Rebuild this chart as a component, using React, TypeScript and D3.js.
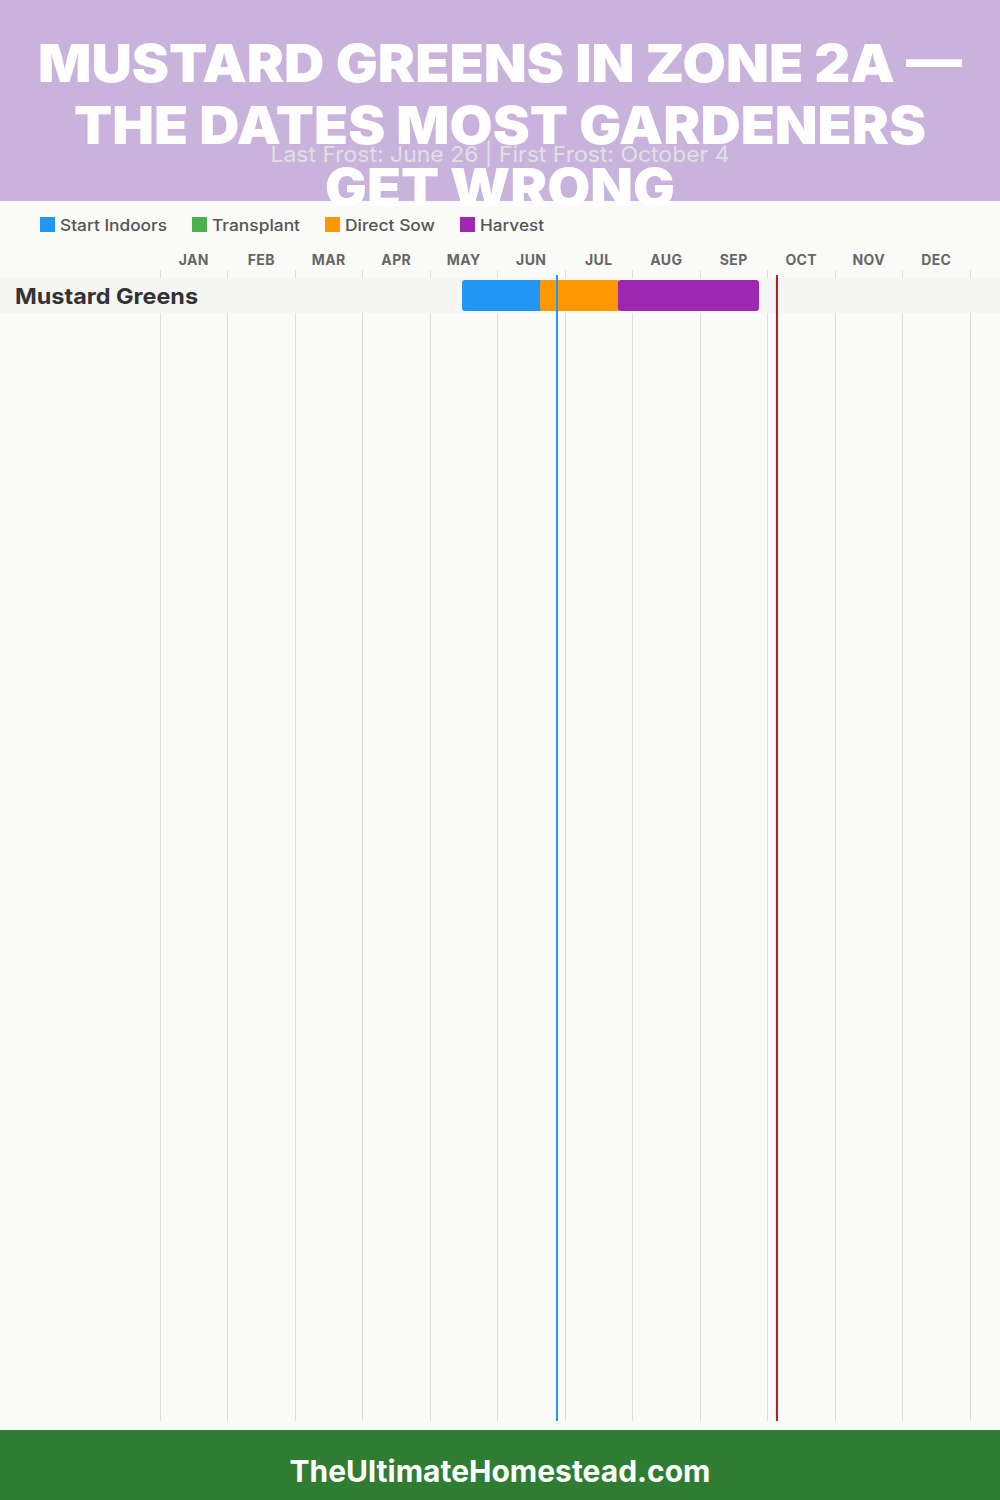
import * as d3 from 'd3'

const months = ['JAN', 'FEB', 'MAR', 'APR', 'MAY', 'JUN', 'JUL', 'AUG', 'SEP', 'OCT', 'NOV', 'DEC']
const titleLines = ['MUSTARD GREENS IN ZONE 2A —', 'THE DATES MOST GARDENERS', 'GET WRONG']
const subtitle = 'Last Frost: June 26 | First Frost: October 4'
const footer = 'TheUltimateHomestead.com'
const plants = ['Mustard Greens']
const legendNames = ['Start Indoors', 'Transplant', 'Direct Sow', 'Harvest']
// bars are [phase, start, end] in months from Jan 1
const phases = ['Start Indoors', 'Direct Sow', 'Harvest']
const phaseStart = [4.474, 5.63, 6.785]
const phaseEnd = [5.67, 6.815, 8.874]
const lastFrost = 5.881
const firstFrost = 9.14

const WIDTH = 1000
const HEIGHT = 1500
const FONT = 'Inter, sans-serif'

const color = d3
  .scaleOrdinal<string, string>()
  .domain(legendNames)
  .range(['#2196F3', '#4CAF50', '#FF9800', '#9C27B0'])

const x = d3.scaleLinear().domain([0, 12]).range([160, 970])
const y = d3.scaleBand<string>().domain(plants).range([278, 313])

// Montserrat is not installed, so each string is fitted to the reference width
const titleWidths = [924, 852, 350]
const legendX = [40, 192, 325, 460]
const legendWidths = [107, 88, 90, 64]

export default function App() {
  const ticks = d3.range(0, 13)
  return (
    <svg
      width={WIDTH}
      height={HEIGHT}
      viewBox={`0 0 ${WIDTH} ${HEIGHT}`}
      style={{ position: 'absolute', left: 0, top: 0, display: 'block' }}
      fontFamily={FONT}
    >
      <rect width={WIDTH} height={HEIGHT} fill="#FAFAF8" />
      <rect width={WIDTH} height={201} fill="#C9B3DC" />

      {titleLines.map((line, i) => (
        <text
          key={line}
          x={WIDTH / 2}
          y={82 + i * 62}
          textAnchor="middle"
          fontSize={52}
          fontWeight={900}
          fill="#fff"
          textLength={titleWidths[i]}
          lengthAdjust="spacingAndGlyphs"
        >
          {line}
        </text>
      ))}
      <text
        x={WIDTH / 2}
        y={162}
        textAnchor="middle"
        fontSize={22}
        fill="#E0E0E0"
        textLength={459}
        lengthAdjust="spacingAndGlyphs"
      >
        {subtitle}
      </text>

      {legendNames.map((name, i) => (
        <g key={name} transform={`translate(${legendX[i]},217)`}>
          <rect width={15} height={15} fill={color(name)} />
          <text
            x={20}
            y={13.5}
            fontSize={16}
            fontWeight={500}
            fill="#555"
            textLength={legendWidths[i]}
            lengthAdjust="spacingAndGlyphs"
          >
            {name}
          </text>
        </g>
      ))}

      {months.map((m, i) => (
        <text
          key={m}
          x={x(i + 0.5)}
          y={264.5}
          textAnchor="middle"
          fontSize={14}
          fontWeight={700}
          letterSpacing={0.4}
          fill="#666"
        >
          {m}
        </text>
      ))}

      {ticks.map((t) => (
        <line
          key={t}
          x1={Math.floor(x(t)) + 0.5}
          x2={Math.floor(x(t)) + 0.5}
          y1={270}
          y2={1421}
          stroke="#DDD"
          strokeWidth={1}
        />
      ))}

      {plants.map((p) => (
        <g key={p}>
          <rect x={0} y={y(p)} width={WIDTH} height={y.bandwidth()} fill="#F5F5F3" />
          <text
            x={15}
            y={304}
            fontSize={22}
            fontWeight={700}
            fill="#333"
            textLength={183}
            lengthAdjust="spacingAndGlyphs"
          >
            {p}
          </text>
          {phases.map((phase, i) => (
            <rect
              key={phase}
              x={x(phaseStart[i])}
              y={y(p)! + 2}
              width={x(phaseEnd[i]) - x(phaseStart[i])}
              height={31}
              rx={3}
              fill={color(phase)}
            />
          ))}
        </g>
      ))}

      <line x1={x(lastFrost)} x2={x(lastFrost)} y1={275} y2={1421} stroke="#2196F3" strokeWidth={2} />
      <line x1={x(firstFrost)} x2={x(firstFrost)} y1={275} y2={1421} stroke="#B71C1C" strokeWidth={2} />

      <rect y={1430} width={WIDTH} height={70} fill="#2E7D32" />
      <text
        x={WIDTH / 2}
        y={1482}
        textAnchor="middle"
        fontSize={30}
        fontWeight={700}
        fill="#fff"
        textLength={421}
        lengthAdjust="spacingAndGlyphs"
      >
        {footer}
      </text>
    </svg>
  )
}
